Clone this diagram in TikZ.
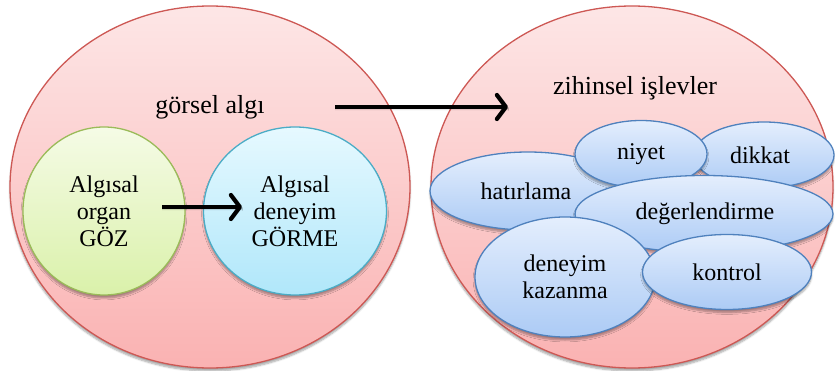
\documentclass[tikz,border=0pt]{standalone}
\usepackage{fontspec}
\setmainfont{Liberation Serif}
\usetikzlibrary{shapes.geometric,arrows.meta,shadows.blur}
\definecolor{pinktop}{RGB}{253,230,230}
\definecolor{pinkbot}{RGB}{250,178,178}
\definecolor{pinkline}{RGB}{205,88,84}
\definecolor{greentop}{RGB}{245,251,230}
\definecolor{greenbot}{RGB}{218,241,170}
\definecolor{greenline}{RGB}{155,187,89}
\definecolor{cyantop}{RGB}{230,249,255}
\definecolor{cyanbot}{RGB}{176,231,250}
\definecolor{cyanline}{RGB}{75,172,198}
\definecolor{bluetop}{RGB}{228,238,253}
\definecolor{bluebot}{RGB}{172,203,245}
\definecolor{blueline}{RGB}{79,129,189}
\tikzset{
  oval/.style={ellipse, inner sep=0pt, line width=1.3pt, align=center,
    font=\fontsize{24}{27}\selectfont,
    blur shadow={shadow xshift=0pt, shadow yshift=-3pt, shadow blur steps=6, shadow opacity=35}},
  bigoval/.style={oval, draw=pinkline, top color=pinktop, bottom color=pinkbot},
  greenoval/.style={oval, draw=greenline, top color=greentop, bottom color=greenbot},
  cyanoval/.style={oval, draw=cyanline, top color=cyantop, bottom color=cyanbot},
  blueoval/.style={oval, draw=blueline, top color=bluetop, bottom color=bluebot},
  txt/.style={font=\fontsize{26}{29}\selectfont, inner sep=0pt},
  bigarrow/.style={line width=4.2pt, -{Straight Barb[length=9pt, width=24pt, line width=4.2pt, round]},
    blur shadow={shadow xshift=0pt, shadow yshift=-2pt, shadow opacity=25}}
}
\begin{document}
\begin{tikzpicture}[x=1pt, y=-1pt]
\useasboundingbox (0,0) rectangle (835,371);
% big ellipses
\node[bigoval, minimum width=400pt, minimum height=362pt] (left) at (210,187) {};
\node[bigoval, minimum width=402pt, minimum height=362pt] (right) at (632,187) {};
\node[txt] (galgi) at (210,107) {görsel algı};
\node[txt] (zihin) at (635,88) {zihinsel işlevler};
% left inner circles
\node[greenoval, minimum width=162pt, minimum height=168pt] (goz) at (104,211) {Algısal\\organ\\GÖZ};
\node[cyanoval, minimum width=183pt, minimum height=168pt] (gorme) at (295,211) {Algısal\\deneyim\\GÖRME};
% right small ellipses
\node[blueoval, minimum width=140pt, minimum height=66pt] (dikkat) at (764,155) {\hspace*{-8pt}dikkat};
\node[blueoval, minimum width=196pt, minimum height=78pt] (hatir) at (528,191) {\hspace*{-4pt}hatırlama};
\node[blueoval, minimum width=132pt, minimum height=67pt] (niyet) at (641,154) {niyet};
\node[blueoval, minimum width=258pt, minimum height=77pt] (deger) at (704,214) {\hspace*{2pt}değerlendirme};
\node[blueoval, minimum width=180pt, minimum height=120pt] (deneyim) at (565,277) {deneyim\\kazanma};
\node[blueoval, minimum width=169pt, minimum height=75pt] (kontrol) at (727,272) {kontrol};
% arrows
\coordinate (a1) at (335,107);
\coordinate (a2) at (508,107);
\coordinate (b1) at (162,207);
\coordinate (b2) at (242,207);
\draw[bigarrow] (a1) -- (a2);
\draw[bigarrow] (b1) -- (b2);
\end{tikzpicture}
\end{document}
